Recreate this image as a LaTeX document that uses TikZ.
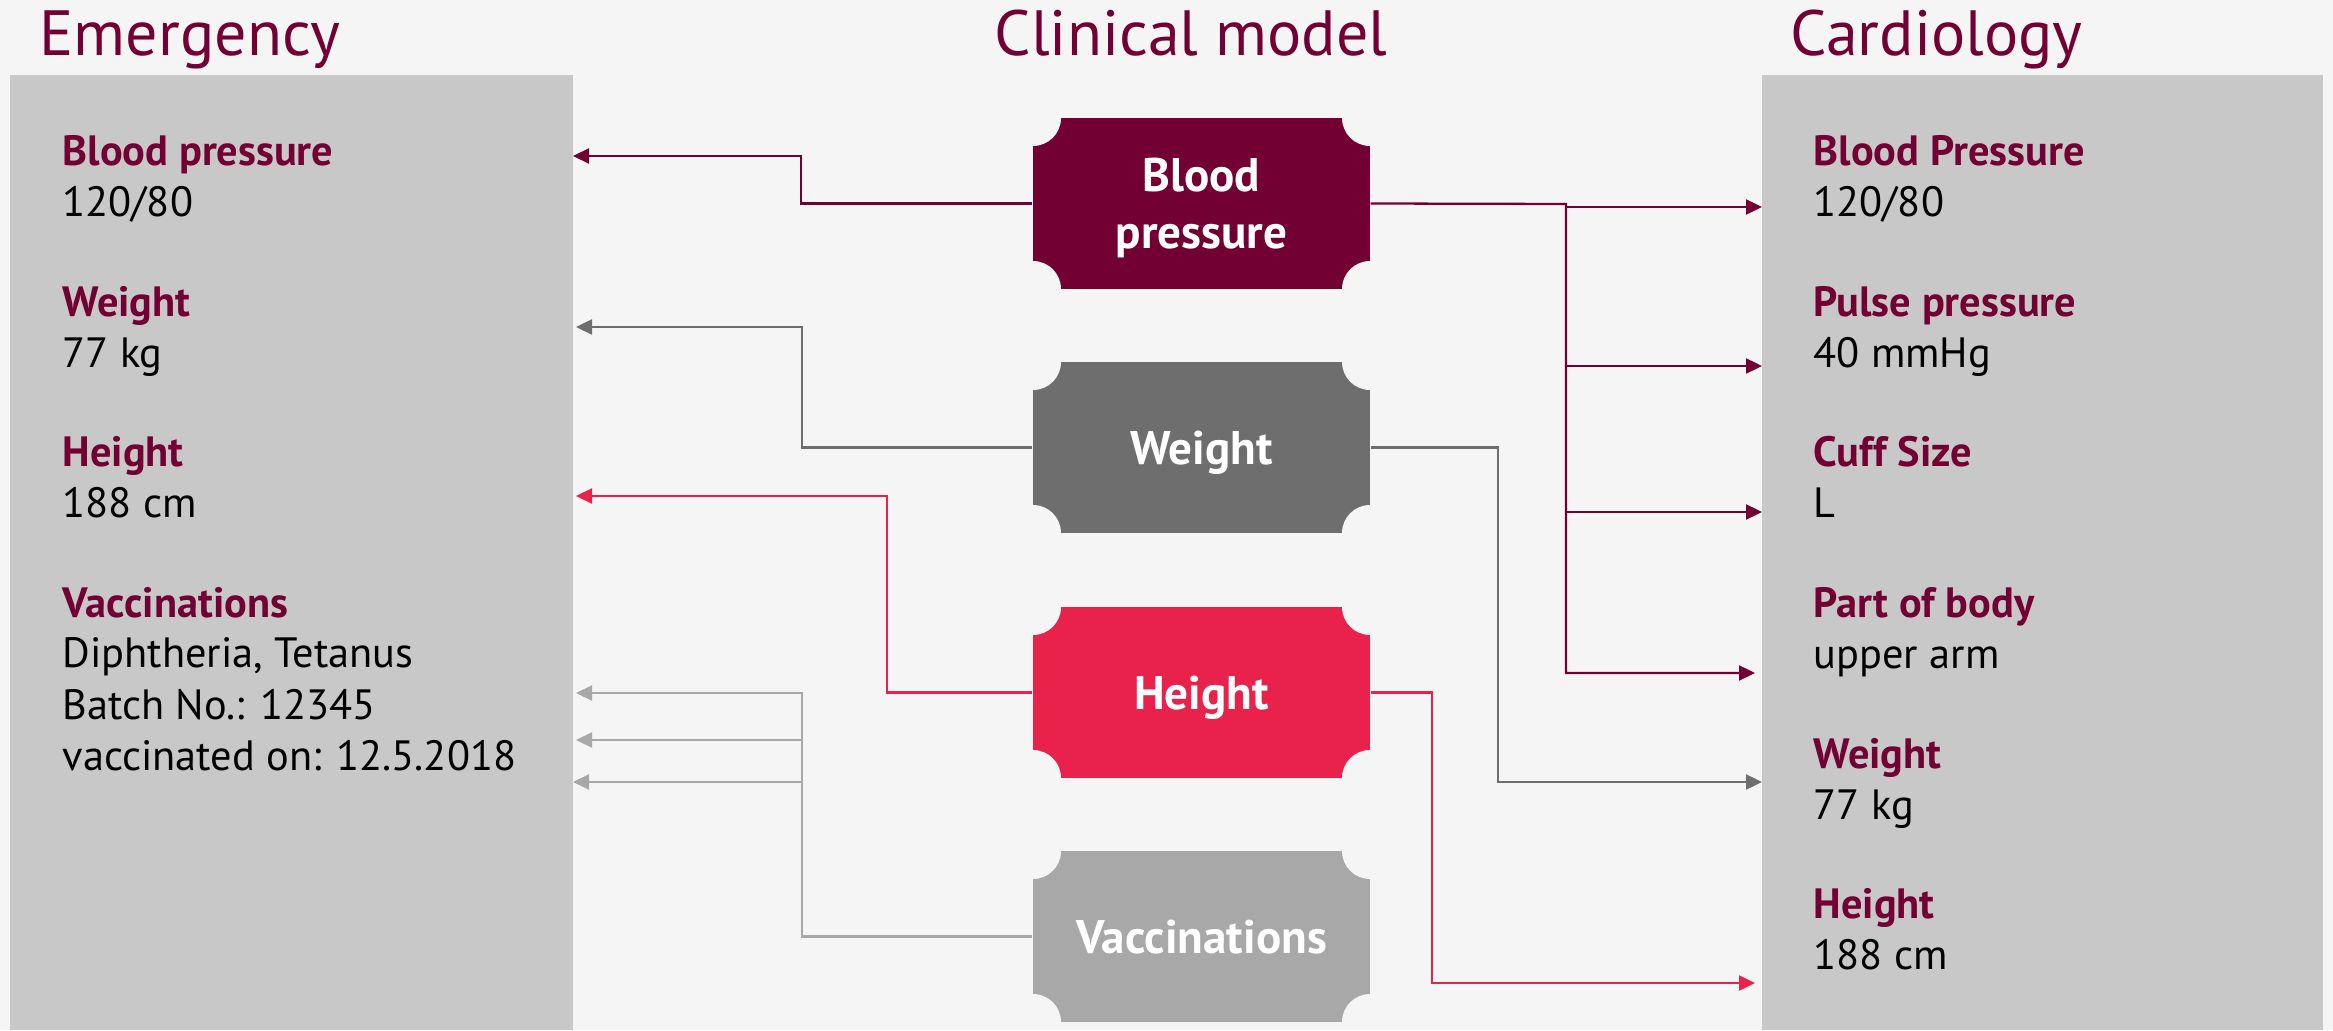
\documentclass[tikz,border=0pt]{standalone}
\usepackage{fontspec}
\setmainfont{PT Sans}
\usetikzlibrary{arrows.meta,calc}
\definecolor{bgcol}{HTML}{F5F5F5}
\definecolor{panelcol}{HTML}{C8C8C8}
\definecolor{maroon}{HTML}{730033}
\definecolor{wgrey}{HTML}{6E6E6E}
\definecolor{hred}{HTML}{E8224A}
\definecolor{vgrey}{HTML}{A8A8A8}
\tikzset{
  model/.style={fill=#1, text=white, font=\fontsize{13.4}{16.2}\selectfont\bfseries,
    align=center, minimum width=3.37cm, minimum height=1.71cm, inner sep=0pt, text depth=0pt,
    path picture={\foreach \c in {north west,north east,south west,south east}
      \fill[bgcol] (path picture bounding box.\c) circle (0.28);}},
  head/.style={anchor=base west, inner sep=0pt, text=maroon, font=\fontsize{12.05}{14}\selectfont\bfseries},
  val/.style={anchor=base west, inner sep=0pt, font=\fontsize{12.05}{14}\selectfont},
  title/.style={anchor=base west, inner sep=0pt, text=maroon, font=\fontsize{18.2}{22}\selectfont},
  link/.style={draw=#1, line width=0.65pt, -{Triangle[length=0.16cm,width=0.15cm]}},
}
\begin{document}
\begin{tikzpicture}
		%%%%% BACKGROUND %%%%%
		\useasboundingbox (0,0) rectangle (23.33,10.30);
		\fill[bgcol] (0,0) rectangle (23.33,10.30);
		
		\fill[panelcol] (0.10,0) rectangle (5.73,9.55);
		\fill[panelcol] (17.62,0) rectangle (23.23,9.55);
		
		%%%%% TITLES %%%%%
		\node[title] (tEmerg) at (0.39,9.74) {Emergency};
		\node[title, anchor=base] (tModel) at (11.91,9.74) {Clinical model};
		\node[title] (tCardio) at (17.90,9.74) {Cardiology};
		
		%%%%% EMERGENCY %%%%%
		\node[head] (eBP) at (0.62,8.64) {Blood pressure};
		\node[val] (eBPv) at (0.62,8.13) {120/80};
		\node[head] (eWeight) at (0.62,7.13) {Weight};
		\node[val] (eWeightv) at (0.62,6.62) {77 kg};
		\node[head] (eHeight) at (0.62,5.63) {Height};
		\node[val] (eHeightv) at (0.62,5.12) {188 cm};
		\node[head] (eVac) at (0.62,4.13) {Vaccinations};
		\node[val] (eVac1) at (0.62,3.63) {Diphtheria, Tetanus};
		\node[val] (eVac2) at (0.62,3.11) {Batch No.: 12345};
		\node[val] (eVac3) at (0.62,2.60) {vaccinated on: 12.5.2018};
		
		%%%%% CARDIOLOGY %%%%%
		\node[head] (cBP) at (18.13,8.64) {Blood Pressure};
		\node[val] (cBPv) at (18.13,8.13) {120/80};
		\node[head] (cPulse) at (18.13,7.13) {Pulse pressure};
		\node[val] (cPulsev) at (18.13,6.62) {40 mmHg};
		\node[head] (cCuff) at (18.13,5.63) {Cuff Size};
		\node[val] (cCuffv) at (18.13,5.12) {L};
		\node[head] (cPart) at (18.13,4.13) {Part of body};
		\node[val] (cPartv) at (18.13,3.62) {upper arm};
		\node[head] (cWeight) at (18.13,2.62) {Weight};
		\node[val] (cWeightv) at (18.13,2.11) {77 kg};
		\node[head] (cHeight) at (18.13,1.12) {Height};
		\node[val] (cHeightv) at (18.13,0.61) {188 cm};
		
		%%%%% CLINICAL MODEL %%%%%
		\node[model=maroon] (bp) at (12.015,8.265) {Blood\\pressure};
		\node[model=wgrey] (weight) at (12.015,5.825) {Weight};
		\node[model=hred] (height) at (12.015,3.375) {Height};
		\node[model=vgrey] (vac) at (12.015,0.935) {Vaccinations};
		
		%%%%% ARROW ENDS %%%%%
		\coordinate (lBP) at (5.73,8.74);
		\coordinate (lWeight) at (5.76,7.03);
		\coordinate (lHeight) at (5.76,5.34);
		\coordinate (lVac1) at (5.76,3.37);
		\coordinate (lVac2) at (5.76,2.90);
		\coordinate (lVac3) at (5.73,2.48);
		\coordinate (vj) at (8.02,0.935);
		
		\coordinate (rBP) at (17.62,8.23);
		\coordinate (rPulse) at (17.62,6.64);
		\coordinate (rCuff) at (17.62,5.18);
		\coordinate (rPart) at (17.55,3.57);
		\coordinate (rWeight) at (17.62,2.48);
		\coordinate (rHeight) at (17.55,0.47);
		\coordinate (bj) at (15.66,8.26);
		
		%%%%% LEFT LINKS %%%%%
		\draw[link=maroon] (bp.west) -- ++(-2.31,0) |- (lBP);
		\draw[link=wgrey] (weight.west) -- ++(-2.30,0) |- (lWeight);
		\draw[link=hred] (height.west) -- ++(-1.45,0) |- (lHeight);
		\draw[link=vgrey] (vac.west) -- (vj) |- (lVac1);
		\draw[link=vgrey] (vj |- lVac2) -- (lVac2);
		\draw[link=vgrey] (vj |- lVac3) -- (lVac3);
		
		%%%%% RIGHT LINKS %%%%%
		\draw[link=maroon] (bp.east) -- (bj) |- (rPart);
		\draw[link=maroon] (bj |- rBP) -- (rBP);
		\draw[link=maroon] (bj |- rPulse) -- (rPulse);
		\draw[link=maroon] (bj |- rCuff) -- (rCuff);
		\draw[link=wgrey] (weight.east) -- ++(1.27,0) |- (rWeight);
		\draw[link=hred] (height.east) -- ++(0.61,0) |- (rHeight);
		
		%%%%% END %%%%%
\end{tikzpicture}
\end{document}
